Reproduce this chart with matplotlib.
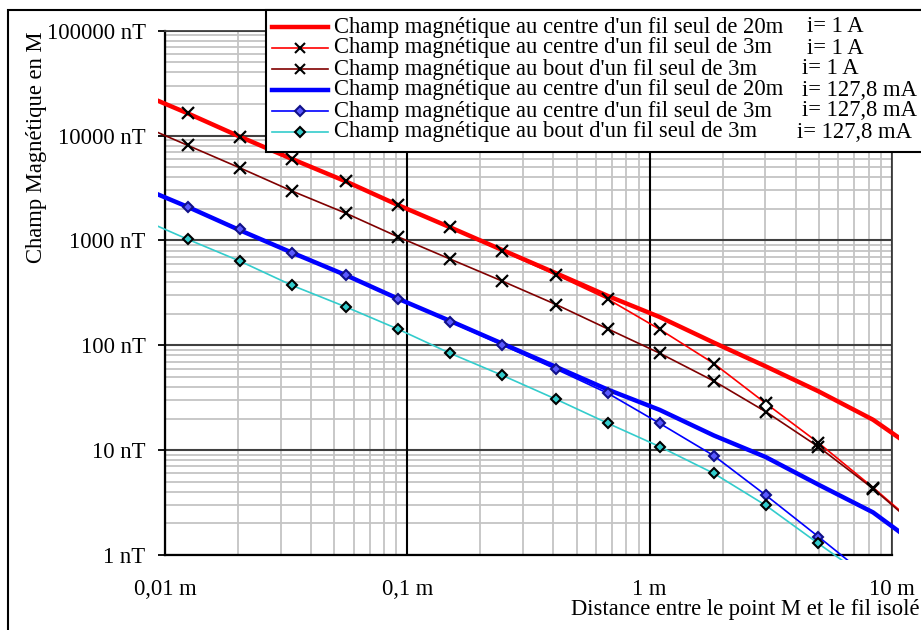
import matplotlib
matplotlib.use("Agg")
import matplotlib.pyplot as plt
from matplotlib.lines import Line2D
from matplotlib.patches import Rectangle
from matplotlib.ticker import FixedLocator, FixedFormatter, LogLocator, NullFormatter

plt.rcParams['font.family'] = ['Liberation Serif', 'DejaVu Serif']
FS = 16.3

# distance to the wire (m); first and last points sit just outside the plot area
distance = [0.00757, 0.0124, 0.0203, 0.0334, 0.0558, 0.0913, 0.150, 0.246,
            0.412, 0.673, 1.10, 1.84, 3.01, 4.96, 8.35, 13.7]

# magnetic field (nT)
b_centre_20m_1a = [26400, 16300, 9800, 5980, 3650, 2180, 1335, 812,
                   485, 295, 186, 106, 63, 36.5, 19.5, 8.8]
b_centre_3m_1a = [26400, 16300, 9750, 5970, 3700, 2165, 1334, 795,
                  468, 275, 142, 67, 28, 11.8, 4.4, 1.65]
b_bout_3m_1a = [13200, 8070, 4935, 2960, 1815, 1085, 665, 410,
                244, 143, 84, 45.6, 23.3, 10.8, 4.3, 1.6]
b_centre_20m_ma = [3370, 2090, 1255, 765, 466, 279, 171, 104,
                   62, 37.7, 24.2, 13.8, 8.6, 4.7, 2.55, 1.1]
b_centre_3m_ma = [3370, 2100, 1277, 759, 465, 278, 168, 101,
                  59, 34.8, 18.0, 8.85, 3.73, 1.50, 0.57, 0.2]
b_bout_3m_ma = [1690, 1026, 637, 373, 232, 143, 84, 51.8,
                30.5, 18.0, 10.8, 6.0, 2.98, 1.29, 0.55, 0.2]

# stray point marked with a hollow diamond
extra_x = [3.01]
extra_y = [26.5]

labels = [
    "Champ magnétique au centre d'un fil seul de 20m",
    "Champ magnétique au centre d'un fil seul de 3m",
    "Champ magnétique au bout d'un fil seul de 3m",
    "Champ magnétique au centre d'un fil seul de 20m",
    "Champ magnétique au centre d'un fil seul de 3m",
    "Champ magnétique au bout d'un fil seul de 3m",
]
currents = ["i= 1 A", "i= 1 A", "i= 1 A", "i= 127,8 mA", "i= 127,8 mA", "i= 127,8 mA"]

y_ticks = [1, 10, 100, 1000, 10000, 100000]
y_tick_labels = ["1 nT", "10 nT", "100 nT", "1000 nT", "10000 nT", "100000 nT"]
x_ticks = [0.01, 0.1, 1, 10]
x_tick_labels = ["0,01 m", "0,1 m", "1 m", "10 m"]

series = [b_centre_20m_1a, b_centre_3m_1a, b_bout_3m_1a,
          b_centre_20m_ma, b_centre_3m_ma, b_bout_3m_ma]
# color, linewidth, marker, face, edge
styles = [
    ("#ff0000", 3.2, None, None, None),
    ("#ff0000", 1.2, "x", "black", "black"),
    ("#800000", 1.2, "x", "black", "black"),
    ("#0000ff", 3.2, None, None, None),
    ("#0000ff", 1.2, "D", "#5a5aff", "#10108a"),
    ("#33cccc", 1.2, "D", "#33cccc", "black"),
]

W, H = 921, 630


def fx(px):
    return px / W


def fy(py):
    return 1 - py / H


fig = plt.figure(figsize=(W / 100, H / 100), dpi=100)
ax = fig.add_axes([fx(165), fy(555), (892 - 165) / W, (555 - 30.7) / H])
ax.set_xscale('log')
ax.set_yscale('log')
ax.set_xlim(0.01, 10)
ax.set_ylim(1, 100000)

# lines run a few pixels past the plot area, like the original
clip = Rectangle((-0.0096, -0.0095), 1.0192, 1.02, transform=ax.transAxes)

for k, (vals, (col, lw, mk, mfc, mec)) in enumerate(zip(series, styles)):
    kw = {}
    if mk is not None:
        kw = dict(marker=mk, markevery=slice(1, len(distance) - 1),
                  markersize=8 if mk == "x" else 5.5, mfc=mfc, mec=mec,
                  mew=1.6 if mk == "x" else 1.5)
    ln, = ax.plot(distance, vals, color=col, lw=lw, zorder=3 + k, **kw)
    ln.set_clip_path(clip)

ax.plot(extra_x, extra_y, ls='none', marker='D', ms=6.5, mfc='white',
        mec='black', mew=1.5, zorder=10)

# ticks and grid
ax.xaxis.set_major_locator(FixedLocator(x_ticks))
ax.xaxis.set_major_formatter(FixedFormatter(x_tick_labels))
ax.yaxis.set_major_locator(FixedLocator(y_ticks))
ax.yaxis.set_major_formatter(FixedFormatter(y_tick_labels))
for axis in (ax.xaxis, ax.yaxis):
    axis.set_minor_locator(LogLocator(base=10, subs=range(2, 10), numticks=20))
    axis.set_minor_formatter(NullFormatter())
ax.set_axisbelow(True)
ax.grid(True, which='minor', color='#c4c4c4', lw=1.3)
# major lines on top of the minor grid
for xv in x_ticks:
    ax.axvline(xv, color='black', lw=1.5, zorder=1.5)
for yv in y_ticks:
    ax.axhline(yv, color='#404040', lw=1.5, zorder=1.4)

ax.tick_params(axis='y', which='major', direction='out', length=5, width=1.3,
               pad=9, labelsize=FS)
ax.tick_params(axis='x', which='major', length=0, pad=17, labelsize=FS)
ax.tick_params(which='minor', length=0)
for side in ('left', 'bottom'):
    ax.spines[side].set_color('black')
    ax.spines[side].set_linewidth(1.6)
for side in ('top', 'right'):
    ax.spines[side].set_color('#404040')
    ax.spines[side].set_linewidth(1.3)

# axis titles
fig.text(fx(37), fy(147), "Champ Magnétique en M", rotation=90,
         ha='center', va='center', fontsize=FS)
fig.text(fx(919), fy(610), "Distance entre le point M et le fil isolé",
         ha='right', va='center', fontsize=FS)

# outer frame
fig.add_artist(Rectangle((fx(8), -0.2), 2, fy(10) + 0.2, transform=fig.transFigure,
                         fill=False, ec='black', lw=1.5, zorder=1))

# legend, drawn by hand
fig.add_artist(Rectangle((fx(266), fy(152)), 1, (152 - 10) / H, transform=fig.transFigure,
                         fc='white', ec='black', lw=1.5, zorder=20))
row_y = [27, 48, 69, 90, 111, 132]
cur_x = [807, 807, 802, 802, 802, 797]
for k, (lab, cur, (col, lw, mk, mfc, mec)) in enumerate(zip(labels, currents, styles)):
    y = fy(row_y[k])
    fig.add_artist(Line2D([fx(272), fx(328)], [y, y], transform=fig.transFigure,
                          color=col, lw=lw, zorder=21))
    if mk is not None:
        fig.add_artist(Line2D([fx(300)], [y], transform=fig.transFigure, ls='none',
                              marker=mk, ms=7 if mk == "x" else 5, mfc=mfc, mec=mec,
                              mew=1.5, zorder=22))
    fig.text(fx(334), y, lab, ha='left', va='center', fontsize=FS, zorder=23)
    fig.text(fx(cur_x[k]), y, cur, ha='left', va='center', fontsize=FS, zorder=23)

fig.savefig('out.png', dpi=100)
